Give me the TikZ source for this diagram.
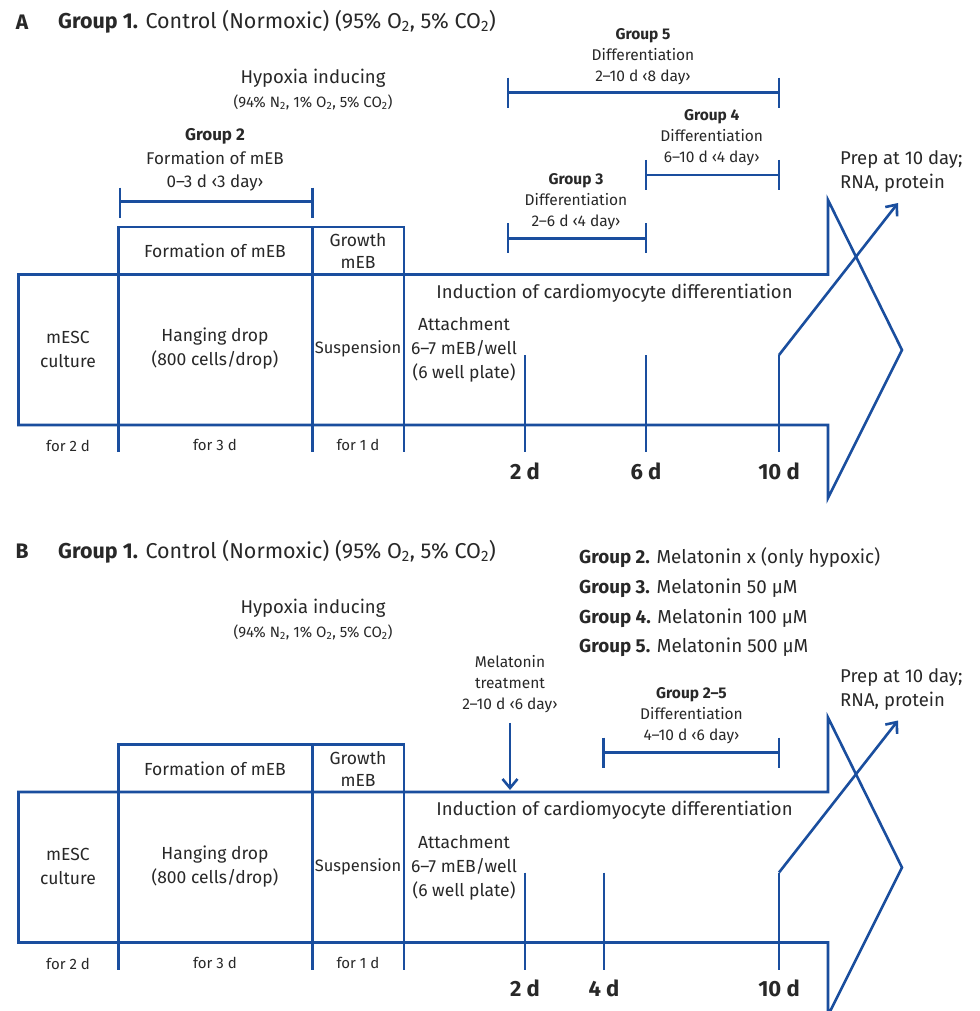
\documentclass[tikz,border=0pt]{standalone}
\usepackage{fontspec}
\setmainfont{Fira Sans}
\usetikzlibrary{arrows.meta}
\definecolor{lineblue}{RGB}{26,78,158}
\definecolor{txt}{RGB}{40,40,40}
\tikzset{
  ln/.style={draw=lineblue, line width=2.6pt, line join=miter},
  arr/.style={ln, -{Straight Barb[length=9pt,width=15pt,line width=2.6pt]}},
  base/.style={text=txt, inner sep=0pt, align=center},
  ttl/.style={base, font=\fontsize{21.5}{24}\selectfont},
  big/.style={base, font=\fontsize{18.5}{24}\selectfont},
  lst/.style={base, font=\fontsize{18.8}{24}\selectfont},
  mid/.style={base, font=\fontsize{17.5}{24}\selectfont},
  grp/.style={base, font=\fontsize{17}{23.5}\selectfont},
  sml/.style={base, font=\fontsize{15.5}{21}\selectfont},
  tiny/.style={base, font=\fontsize{15}{20}\selectfont},
  day/.style={base, font=\fontsize{22}{24}\selectfont\bfseries},
}
\newcommand\mytimeline[3]{% #1 middle tick x, #2 label, #3 name
  \draw[ln] (18.5,274.5) -- (828,274.5) -- (828,200) -- (902,350) -- (828,498) -- (828,425) -- (18.5,425) -- cycle;
  \draw[ln] (118.5,452) -- (118.5,227) -- (404,227) -- (404,452);
  \draw[ln] (312.5,227) -- (312.5,452);
  \coordinate (t2top) at (525,355);   \coordinate (t2bot) at (525,452);
  \coordinate (tmtop) at (#1,355);    \coordinate (tmbot) at (#1,452);
  \coordinate (t10top) at (779,355);  \coordinate (t10bot) at (779,452);
  \coordinate (prepend) at (898,203);
  \draw[ln] (t2top) -- (t2bot);
  \draw[ln] (tmtop) -- (tmbot);
  \draw[ln] (t10top) -- (t10bot);
  \draw[arr] (t10top) -- (prepend);
  \node[mid] (formbox) at (215,251) {Formation of mEB};
  \node[mid] (growth) at (358,251) {Growth\\[-2pt]mEB};
  \node[mid] (mesc) at (68,349) {mESC\\culture};
  \node[mid] (hang) at (215,349) {Hanging drop\\(800 cells/drop)};
  \node[mid, font=\fontsize{16.5}{24}\selectfont] (susp) at (358,349) {Suspension};
  \node[mid] (attach) at (464,350) {Attachment\\6–7 mEB/well\\(6 well plate)};
  \node[big] (induct) at (614.5,293) {Induction of cardiomyocyte differentiation};
  \node[big, anchor=west, align=left] (prep) at (840,172) {Prep at 10 day;\\RNA, protein};
  \node[tiny] (f2) at (68,446) {for 2 d};
  \node[tiny] (f3) at (215,445) {for 3 d};
  \node[tiny] (f1) at (358,445) {for 1 d};
  \node[day] (d2) at (525,471) {2 d};
  \node[day] (dm) at (#1,471) {#2};
  \node[day] (d10) at (779,471) {10 d};
}
\begin{document}
\begin{tikzpicture}[x=1pt,y=-1pt]
\useasboundingbox (0,0) rectangle (979,1011);
\fill[white] (0,0) rectangle (979,1011);
%%% Panel A
\node[ttl, font=\fontsize{21}{24}\selectfont\bfseries] (labA) at (22,22) {A};
\node[ttl, anchor=west] (g1A) at (58,22) {\textbf{Group 1.} Control (Normoxic) (95\% O\textsubscript{2}, 5\% CO\textsubscript{2})};
\node[big] (hypA) at (313,78) {Hypoxia inducing};
\node[tiny] (hypsubA) at (313,102.7) {(94\% N\textsubscript{2}, 1\% O\textsubscript{2}, 5\% CO\textsubscript{2})};
\node[grp] (g2A) at (215,160) {\textbf{Group 2}\\Formation of mEB\\0–3 d ‹3 day›};
\coordinate (g2l) at (120,201.7); \coordinate (g2r) at (312.5,201.7);
\draw[ln] (g2l) -- (g2r);
\draw[ln] ([yshift=14pt]g2l) -- ([yshift=-16pt]g2l);
\draw[ln] ([yshift=14pt]g2r) -- ([yshift=-16pt]g2r);
\node[sml] (g5A) at (643,56.5) {\textbf{Group 5}\\Differentiation\\2–10 d ‹8 day›};
\coordinate (g5l) at (508,92.7); \coordinate (g5r) at (779,92.7);
\draw[ln] (g5l) -- (g5r);
\draw[ln] ([yshift=15pt]g5l) -- ([yshift=-15pt]g5l);
\draw[ln] ([yshift=15pt]g5r) -- ([yshift=-15pt]g5r);
\node[sml] (g4A) at (711.7,138) {\textbf{Group 4}\\Differentiation\\6–10 d ‹4 day›};
\coordinate (g4l) at (646,175); \coordinate (g4r) at (779,175);
\draw[ln] (g4l) -- (g4r);
\draw[ln] ([yshift=15pt]g4l) -- ([yshift=-15pt]g4l);
\draw[ln] ([yshift=15pt]g4r) -- ([yshift=-15pt]g4r);
\node[sml] (g3A) at (576,201.7) {\textbf{Group 3}\\Differentiation\\2–6 d ‹4 day›};
\coordinate (g3l) at (508,238.3); \coordinate (g3r) at (646,238.3);
\draw[ln] (g3l) -- (g3r);
\draw[ln] ([yshift=15pt]g3l) -- ([yshift=-15pt]g3l);
\draw[ln] ([yshift=15pt]g3r) -- ([yshift=-15pt]g3r);
\begin{scope}[name prefix=A-]
\mytimeline{646}{6 d}{A}
\end{scope}
%%% Panel B
\node[ttl, font=\fontsize{21}{24}\selectfont\bfseries] (labB) at (22,551.7) {B};
\node[ttl, anchor=west] (g1B) at (58,551.7) {\textbf{Group 1.} Control (Normoxic) (95\% O\textsubscript{2}, 5\% CO\textsubscript{2})};
\node[big] (hypB) at (313,608.3) {Hypoxia inducing};
\node[tiny] (hypsubB) at (313,632.7) {(94\% N\textsubscript{2}, 1\% O\textsubscript{2}, 5\% CO\textsubscript{2})};
\node[lst, anchor=west] (lg2) at (579,557.7) {\textbf{Group 2.} Melatonin x (only hypoxic)};
\node[lst, anchor=west] (lg3) at (579,588.3) {\textbf{Group 3.} Melatonin 50 μM};
\node[lst, anchor=west] (lg4) at (579,618.3) {\textbf{Group 4.} Melatonin 100 μM};
\node[lst, anchor=west] (lg5) at (579,647.3) {\textbf{Group 5.} Melatonin 500 μM};
\node[sml] (melB) at (510,684) {Melatonin\\treatment\\2–10 d ‹6 day›};
\coordinate (melarr) at (510,790);
\draw[arr] ([yshift=-10pt]melB.south) -- (melarr);
\node[sml] (g25B) at (691.5,715.3) {\textbf{Group 2–5}\\Differentiation\\4–10 d ‹6 day›};
\coordinate (g25l) at (603.3,752.7); \coordinate (g25r) at (779,752.7);
\draw[ln] (g25l) -- (g25r);
\draw[ln] ([yshift=15pt]g25l) -- ([yshift=-15pt]g25l);
\draw[ln] ([yshift=15pt]g25r) -- ([yshift=-15pt]g25r);
\begin{scope}[yshift=-517.5pt, name prefix=B-]
\mytimeline{604}{4 d}{B}
\end{scope}
\end{tikzpicture}
\end{document}
